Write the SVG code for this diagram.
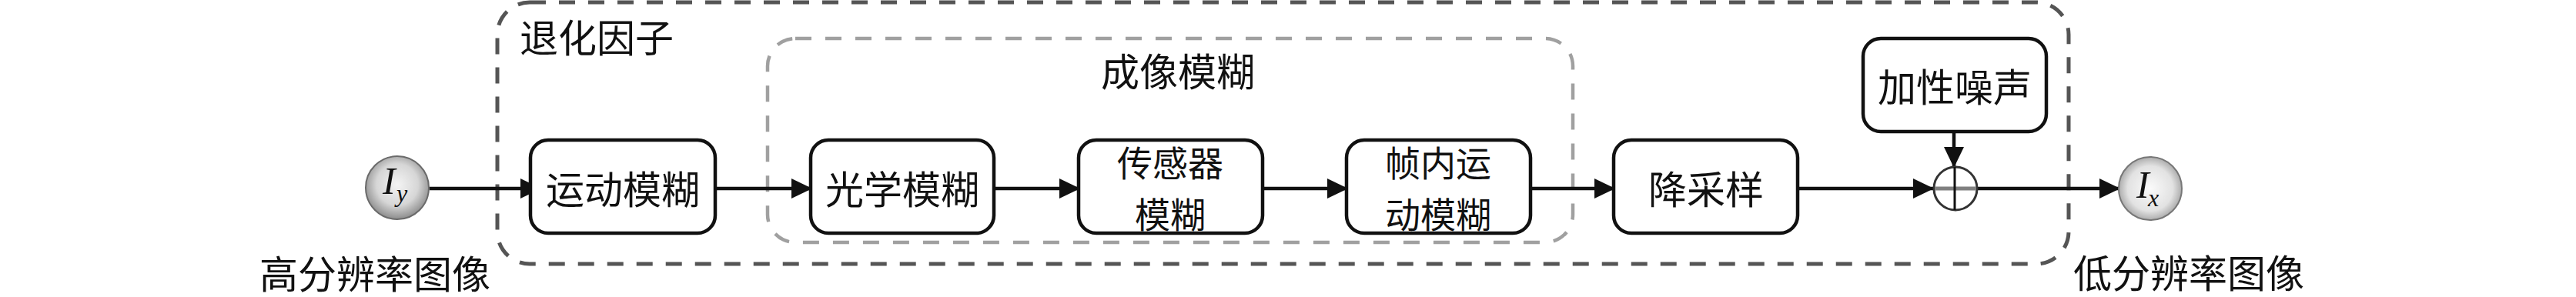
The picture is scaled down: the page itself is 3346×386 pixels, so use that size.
<svg xmlns="http://www.w3.org/2000/svg" width="3346" height="386" viewBox="0 0 3346 386">
<style>
.t{font-family:"Noto Sans CJK SC","Noto Sans",sans-serif;font-size:50px;fill:#111;text-anchor:middle;dominant-baseline:central}
.t2{font-size:46px}
.box{fill:#fff;stroke:#111;stroke-width:4.5}
.ln{stroke:#111;stroke-width:4.5;fill:none}
.m{font-family:"Liberation Serif",serif;font-style:italic;fill:#111}
</style>
<defs>
<marker id="ah" markerWidth="28" markerHeight="28" viewBox="0 0 28 28" refX="26" refY="14" orient="auto" markerUnits="userSpaceOnUse">
<path d="M0,1 L27,14 L0,27 Z" fill="#111"/>
</marker>
<radialGradient id="g1" cx="0.5" cy="0.45" r="0.55">
<stop offset="0" stop-color="#f4f4f4"/>
<stop offset="0.6" stop-color="#d6d6d6"/>
<stop offset="1" stop-color="#8c8c8c"/>
</radialGradient>
<radialGradient id="g2" cx="0.5" cy="0.5" r="0.55">
<stop offset="0" stop-color="#fafafa"/>
<stop offset="0.65" stop-color="#e2e2e2"/>
<stop offset="1" stop-color="#9a9a9a"/>
</radialGradient>
</defs>
<rect width="3346" height="386" fill="#fff"/>

<g id="degradation-group">
<rect x="646" y="3" width="2041" height="340" rx="42" fill="none" stroke="#555" stroke-width="5" stroke-dasharray="21 17"/>
<text class="t" x="775" y="46">退化因子</text>
</g>
<g id="imaging-blur-group">
<rect x="997" y="50" width="1046" height="265" rx="36" fill="none" stroke="#a0a0a0" stroke-width="4.5" stroke-dasharray="21 18"/>
<text class="t" x="1530" y="90">成像模糊</text>
</g>

<g id="connectors">
<line class="ln" x1="558" y1="245" x2="702" y2="245" marker-end="url(#ah)"/>
<line class="ln" x1="931" y1="245" x2="1054" y2="245" marker-end="url(#ah)"/>
<line class="ln" x1="1291" y1="245" x2="1402" y2="245" marker-end="url(#ah)"/>
<line class="ln" x1="1640" y1="245" x2="1750" y2="245" marker-end="url(#ah)"/>
<line class="ln" x1="1988" y1="245" x2="2097" y2="245" marker-end="url(#ah)"/>
<line class="ln" x1="2335" y1="245" x2="2511" y2="245" marker-end="url(#ah)"/>
<line class="ln" x1="2538" y1="171" x2="2538" y2="217" stroke-width="3.5" marker-end="url(#ah)"/>
<line class="ln" x1="2569" y1="245" x2="2753" y2="245" marker-end="url(#ah)"/>
</g>

<g id="node-Iy">
<circle cx="516" cy="244" r="41" fill="url(#g1)" stroke="#6a6a6a" stroke-width="2"/>
<text class="m" x="497" y="252" font-size="50">I</text>
<text class="m" x="515" y="262" font-size="32">y</text>
<text class="t" x="487" y="353" font-size="49">高分辨率图像</text>
</g>
<g id="node-motion-blur">
<rect class="box" x="689" y="182" width="240" height="121" rx="23"/>
<text class="t" x="809" y="243">运动模糊</text>
</g>
<g id="node-optical-blur">
<rect class="box" x="1053" y="182" width="238" height="121" rx="23"/>
<text class="t" x="1172" y="243">光学模糊</text>
</g>
<g id="node-sensor-blur">
<rect class="box" x="1401" y="182" width="239" height="121" rx="23"/>
<text class="t t2" x="1520" y="209">传感器</text>
<text class="t t2" x="1520" y="276">模糊</text>
</g>
<g id="node-intraframe-blur">
<rect class="box" x="1749" y="182" width="239" height="121" rx="23"/>
<text class="t t2" x="1868" y="209">帧内运</text>
<text class="t t2" x="1868" y="276">动模糊</text>
</g>
<g id="node-downsample">
<rect class="box" x="2096" y="182" width="239" height="121" rx="23"/>
<text class="t" x="2216" y="243">降采样</text>
</g>
<g id="node-noise">
<rect class="box" x="2420" y="50" width="238" height="121" rx="23"/>
<text class="t" x="2539" y="110">加性噪声</text>
</g>
<g id="node-sum">
<circle cx="2540" cy="245" r="28" fill="#fff" stroke="#333" stroke-width="3"/>
<line x1="2513" y1="245" x2="2567" y2="245" stroke="#808080" stroke-width="5"/>
<line x1="2539" y1="217" x2="2539" y2="273" stroke="#111" stroke-width="3"/>
</g>
<g id="node-Ix">
<circle cx="2793" cy="245" r="41" fill="url(#g2)" stroke="#777" stroke-width="2"/>
<text class="m" x="2775" y="257" font-size="50">I</text>
<text class="m" x="2790" y="268" font-size="32">x</text>
<text class="t" x="2843" y="352" font-size="49">低分辨率图像</text>
</g>
</svg>
